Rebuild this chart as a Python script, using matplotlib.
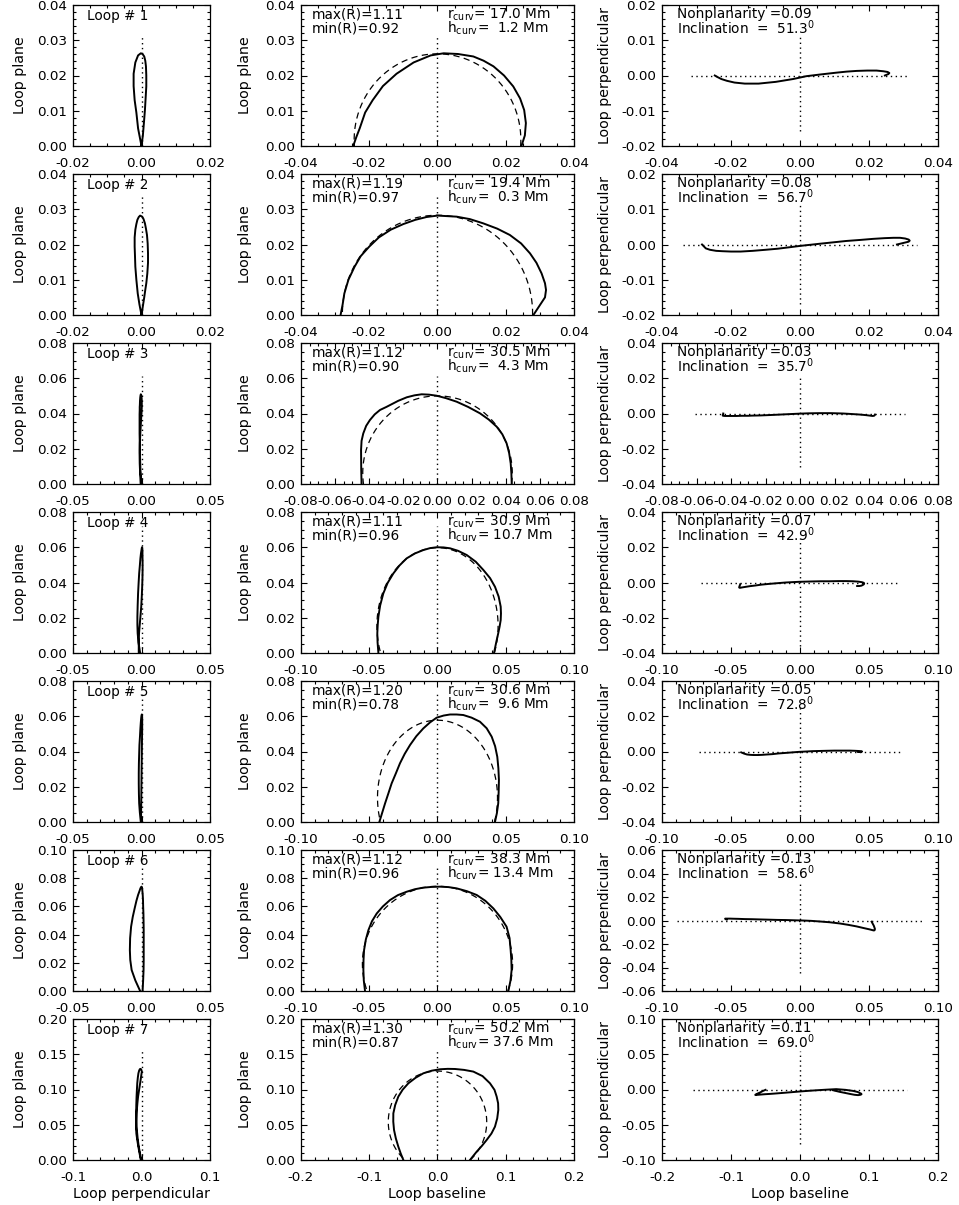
import numpy as np
import matplotlib.pyplot as plt
from matplotlib.ticker import FixedLocator, AutoMinorLocator, FuncFormatter

plt.rcParams['font.family'] = ['DejaVu Sans']
plt.rcParams['mathtext.fontset'] = 'dejavusans'
plt.rcParams['axes.unicode_minus'] = False
plt.rcParams['font.size'] = 10.2

R_SUN = 696.0  # Mm

# ------------------------------------------------------------------
# loop parameters
# ------------------------------------------------------------------
max_r        = [1.11, 1.19, 1.12, 1.11, 1.20, 1.12, 1.30]
min_r        = [0.92, 0.97, 0.90, 0.96, 0.78, 0.96, 0.87]
r_curv       = [17.0, 19.4, 30.5, 30.9, 30.6, 38.3, 50.2]   # Mm
h_curv       = [1.2, 0.3, 4.3, 10.7, 9.6, 13.4, 37.6]       # Mm
nonplanarity = [0.09, 0.08, 0.03, 0.07, 0.05, 0.13, 0.11]
inclination  = [51.3, 56.7, 35.7, 42.9, 72.8, 58.6, 69.0]

# ------------------------------------------------------------------
# loop coordinates (solar radii): baseline, height, perpendicular
# ------------------------------------------------------------------
base_1   = [-0.0247, -0.0238, -0.0228, -0.0212, -0.0190, -0.0160, -0.0120, -0.0070, -0.0020,
            0.0018, 0.0060, 0.0105, 0.0135, 0.0164, 0.0195, 0.0222, 0.0242, 0.0254, 0.0259, 0.0256, 0.0246]
height_1 = [0.0, 0.0025, 0.0050, 0.0095, 0.0130, 0.0170, 0.0205, 0.0237, 0.0257,
            0.0263, 0.0261, 0.0254, 0.0242, 0.0226, 0.0200, 0.0169, 0.0135, 0.0102, 0.0065, 0.0030, 0.0]
perp_1   = [0.0, -0.0005, -0.0010, -0.0015, -0.0020, -0.0023, -0.0023, -0.0018, -0.0010,
            -0.0002, 0.0003, 0.0008, 0.0011, 0.0013, 0.0014, 0.0014, 0.0012, 0.0010, 0.0007, 0.0004, 0.0]

base_2   = [-0.0284, -0.0278, -0.0273, -0.0261, -0.0243, -0.0225, -0.0200, -0.0172, -0.0137, -0.0100,
            -0.0065, -0.0032, 0.0000, 0.0056, 0.0095, 0.0134, 0.0175, 0.0212, 0.0245, 0.0271,
            0.0290, 0.0305, 0.0315, 0.0318, 0.0315, 0.0281]
height_2 = [0.0, 0.0030, 0.0061, 0.0100, 0.0137, 0.0167, 0.0194, 0.0220, 0.0242, 0.0258,
            0.0270, 0.0278, 0.0282, 0.0279, 0.0272, 0.0260, 0.0245, 0.0227, 0.0203, 0.0175,
            0.0148, 0.0118, 0.0090, 0.0071, 0.0050, 0.0]
perp_2   = [0.0, -0.0006, -0.0011, -0.0015, -0.0018, -0.0019, -0.0020, -0.0020, -0.0018, -0.0015,
            -0.0012, -0.0008, -0.0004, 0.0002, 0.0006, 0.0010, 0.0013, 0.0016, 0.0018, 0.0019,
            0.0019, 0.0017, 0.0014, 0.0011, 0.0008, 0.0]

base_3   = [-0.0445, -0.0447, -0.0448, -0.0445, -0.0435, -0.0418, -0.0396, -0.0368, -0.0337, -0.0300,
            -0.0278, -0.0230, -0.0180, -0.0135, -0.0093, -0.0050, -0.0005, 0.0050, 0.0112, 0.0180,
            0.0249, 0.0300, 0.0347, 0.0380, 0.0405, 0.0420, 0.0429, 0.0433, 0.0435]
height_3 = [0.0, 0.0080, 0.0193, 0.0245, 0.0287, 0.0330, 0.0363, 0.0395, 0.0420, 0.0437,
            0.0448, 0.0472, 0.0492, 0.0503, 0.0509, 0.0507, 0.0501, 0.0487, 0.0467, 0.0437,
            0.0401, 0.0366, 0.0325, 0.0282, 0.0231, 0.0175, 0.0117, 0.0060, 0.0]
perp_3   = [0.0, -0.0008, -0.0012, -0.0013, -0.0014, -0.0014, -0.0014, -0.0014, -0.0013, -0.0013,
            -0.0012, -0.0011, -0.0009, -0.0007, -0.0005, -0.0003, -0.0001, 0.0001, 0.0002, 0.0002,
            0.0, -0.0003, -0.0006, -0.0009, -0.0012, -0.0014, -0.0013, -0.0010, -0.0006]

base_4   = [-0.0433, -0.0439, -0.0441, -0.0438, -0.0433, -0.0420, -0.0397, -0.0365, -0.0323, -0.0278,
            -0.0226, -0.0165, -0.0104, -0.0055, -0.0006, 0.0045, 0.0092, 0.0150, 0.0214, 0.0280,
            0.0336, 0.0385, 0.0421, 0.0448, 0.0463, 0.0465, 0.0463, 0.0455, 0.0445, 0.0430, 0.0414]
height_4 = [0.0, 0.0060, 0.0112, 0.0160, 0.0206, 0.0270, 0.0338, 0.0398, 0.0452, 0.0497,
            0.0537, 0.0565, 0.0584, 0.0595, 0.0600, 0.0599, 0.0594, 0.0580, 0.0556, 0.0518,
            0.0471, 0.0425, 0.0376, 0.0320, 0.0263, 0.0225, 0.0187, 0.0150, 0.0112, 0.0060, 0.0]
perp_4   = [-0.0010, -0.0022, -0.0028, -0.0030, -0.0030, -0.0028, -0.0025, -0.0021, -0.0017, -0.0012,
            -0.0008, -0.0004, 0.0000, 0.0002, 0.0004, 0.0005, 0.0006, 0.0007, 0.0007, 0.0008,
            0.0008, 0.0007, 0.0005, 0.0002, -0.0002, -0.0006, -0.0010, -0.0014, -0.0018, -0.0020, -0.0020]

base_5   = [-0.0426, -0.0405, -0.0384, -0.0360, -0.0336, -0.0305, -0.0275, -0.0240, -0.0201, -0.0155,
            -0.0104, -0.0055, -0.0006, 0.0045, 0.0092, 0.0140, 0.0189, 0.0250, 0.0311, 0.0360,
            0.0397, 0.0422, 0.0438, 0.0446, 0.0450, 0.0448, 0.0445, 0.0435, 0.0421]
height_5 = [0.0, 0.0053, 0.0106, 0.0162, 0.0219, 0.0276, 0.0333, 0.0387, 0.0437, 0.0487,
            0.0531, 0.0565, 0.0592, 0.0604, 0.0610, 0.0610, 0.0607, 0.0592, 0.0569, 0.0532,
            0.0484, 0.0430, 0.0370, 0.0305, 0.0238, 0.0170, 0.0106, 0.0050, 0.0]
perp_5   = [-0.0005, -0.0012, -0.0017, -0.0019, -0.0020, -0.0020, -0.0019, -0.0017, -0.0015, -0.0011,
            -0.0008, -0.0005, -0.0002, 0.0000, 0.0002, 0.0003, 0.0004, 0.0005, 0.0005, 0.0005,
            0.0004, 0.0003, 0.0002, 0.0001, 0.0, -0.0001, -0.0002, -0.0003, -0.0003]

base_6   = [-0.0531, -0.0540, -0.0543, -0.0542, -0.0538, -0.0525, -0.0506, -0.0480, -0.0445, -0.0400,
            -0.0348, -0.0290, -0.0226, -0.0165, -0.0104, -0.0045, 0.0018, 0.0080, 0.0140, 0.0215,
            0.0287, 0.0350, 0.0409, 0.0460, 0.0506, 0.0528, 0.0536, 0.0541, 0.0543, 0.0535, 0.0519]
height_6 = [0.0, 0.0075, 0.0149, 0.0220, 0.0290, 0.0365, 0.0432, 0.0495, 0.0550, 0.0600,
            0.0645, 0.0680, 0.0704, 0.0722, 0.0733, 0.0738, 0.0740, 0.0737, 0.0728, 0.0708,
            0.0681, 0.0640, 0.0586, 0.0525, 0.0456, 0.0375, 0.0290, 0.0220, 0.0149, 0.0075, 0.0]
perp_6   = [0.0008, 0.0012, 0.0015, 0.0016, 0.0016, 0.0016, 0.0016, 0.0015, 0.0014, 0.0012,
            0.0011, 0.0009, 0.0007, 0.0005, 0.0004, 0.0002, 0.0, -0.0003, -0.0008, -0.0015,
            -0.0025, -0.0037, -0.0050, -0.0064, -0.0076, -0.0083, -0.0085, -0.0082, -0.0072, -0.0045, -0.0010]

base_7   = [-0.0500, -0.0540, -0.0574, -0.0610, -0.0637, -0.0648, -0.0647, -0.0620, -0.0574, -0.0510,
            -0.0427, -0.0320, -0.0207, -0.0085, 0.0037, 0.0150, 0.0256, 0.0390, 0.0525, 0.0660,
            0.0769, 0.0835, 0.0867, 0.0888, 0.0891, 0.0875, 0.0842, 0.0790, 0.0720, 0.0650, 0.0574, 0.0476]
height_7 = [0.0, 0.0095, 0.0189, 0.0305, 0.0426, 0.0545, 0.0662, 0.0780, 0.0899, 0.0998,
            0.1088, 0.1167, 0.1230, 0.1267, 0.1287, 0.1293, 0.1291, 0.1278, 0.1254, 0.1190,
            0.1088, 0.0995, 0.0899, 0.0805, 0.0710, 0.0590, 0.0473, 0.0375, 0.0284, 0.0200, 0.0118, 0.0]
perp_7   = [-0.0005, -0.0022, -0.0040, -0.0056, -0.0068, -0.0075, -0.0078, -0.0076, -0.0072, -0.0067,
            -0.0062, -0.0054, -0.0045, -0.0035, -0.0025, -0.0017, -0.0010, -0.0002, 0.0005, -0.0005,
            -0.0020, -0.0035, -0.0050, -0.0060, -0.0068, -0.0075, -0.0080, -0.0075, -0.0062, -0.0048, -0.0033, -0.0010]

bases   = [base_1, base_2, base_3, base_4, base_5, base_6, base_7]
heights = [height_1, height_2, height_3, height_4, height_5, height_6, height_7]
perps   = [perp_1, perp_2, perp_3, perp_4, perp_5, perp_6, perp_7]

# axis ranges (half-width or top) and major tick steps per row
perp_lim   = [0.02, 0.02, 0.05, 0.05, 0.05, 0.05, 0.10]
perp_step  = [0.02, 0.02, 0.05, 0.05, 0.05, 0.05, 0.10]
base_lim   = [0.04, 0.04, 0.08, 0.10, 0.10, 0.10, 0.20]
base_step  = [0.02, 0.02, 0.02, 0.05, 0.05, 0.05, 0.10]
hgt_lim    = [0.04, 0.04, 0.08, 0.08, 0.08, 0.10, 0.20]
hgt_step   = [0.01, 0.01, 0.02, 0.02, 0.02, 0.02, 0.05]
side_lim   = [0.02, 0.02, 0.04, 0.04, 0.04, 0.06, 0.10]
side_step  = [0.01, 0.01, 0.02, 0.02, 0.02, 0.02, 0.05]

# ------------------------------------------------------------------
# layout (pixels)
# ------------------------------------------------------------------
W, H = 959, 1205
col_left  = [73, 301, 662]
col_width = [137, 273, 276]
col_ypad  = [7.0, 9.0, 6.5]
row_top0, row_pitch, ax_h = 5, 169, 141

fig = plt.figure(figsize=(W / 100, H / 100), dpi=100)

SOLID  = dict(color='k', lw=1.4, solid_joinstyle='round')
DASHED = dict(color='k', lw=0.9, linestyle=(0, (5, 3.5)))
DOTTED = dict(color='k', lw=1.0, linestyle=(0, (1, 2.5)))
NOTE   = dict(va='baseline', fontsize=9.8)
LINE1, LINE2 = 0.903, 0.803


def make_ax(row, col):
    top = row_top0 + row * row_pitch
    return fig.add_axes([col_left[col] / W, 1 - (top + ax_h) / H,
                         col_width[col] / W, ax_h / H])


def set_axis(axis, lo, hi, step, fmt):
    n = int(round((hi - lo) / step))
    ticks = np.round(lo + step * np.arange(n + 1), 6)
    axis.set_major_locator(FixedLocator(ticks))
    axis.set_minor_locator(AutoMinorLocator())
    axis.set_major_formatter(FuncFormatter(
        lambda v, _: fmt % (v if abs(v) > 1e-9 else 0.0)))


def style(ax, col, xr, xstep, xfmt, yr, ystep, yfmt, ylabel):
    ax.set_xlim(*xr)
    ax.set_ylim(*yr)
    set_axis(ax.xaxis, xr[0], xr[1], xstep, xfmt)
    set_axis(ax.yaxis, yr[0], yr[1], ystep, yfmt)
    ax.tick_params(which='both', direction='in', top=True, right=True,
                   labelsize=9.7, width=0.8)
    ax.tick_params(axis='x', pad=8)
    ax.tick_params(axis='y', pad=4.5)
    ax.tick_params(which='major', length=4)
    ax.tick_params(which='minor', length=2)
    for s in ax.spines.values():
        s.set_linewidth(0.9)
    ax.set_ylabel(ylabel, labelpad=col_ypad[col])


for i in range(7):
    x = np.array(bases[i])
    z = np.array(heights[i])
    y = np.array(perps[i])
    hmax = z.max()
    fmt_b = '%.1f' if base_step[i] >= 0.1 else '%.2f'
    fmt_p = '%.1f' if perp_step[i] >= 0.1 else '%.2f'

    # --- perpendicular vs height ---
    ax = make_ax(i, 0)
    ax.plot([0, 0], [0, 1.2 * hmax], **DOTTED)
    ax.plot(y, z, **SOLID)
    style(ax, 0, (-perp_lim[i], perp_lim[i]), perp_step[i], fmt_p,
          (0, hgt_lim[i]), hgt_step[i], '%.2f', 'Loop plane')
    ax.text(0.10, 0.894, f'Loop # {i + 1}', transform=ax.transAxes, **NOTE)
    if i == 6:
        ax.set_xlabel('Loop perpendicular', labelpad=2)

    # --- baseline vs height, with fitted circle ---
    ax = make_ax(i, 1)
    ax.plot([0, 0], [0, 1.2 * hmax], **DOTTED)
    rc = r_curv[i] / R_SUN
    hc = h_curv[i] / R_SUN
    t0 = -np.arcsin(hc / rc)
    t = np.linspace(t0, np.pi - t0, 300)
    ax.plot(rc * np.cos(t), hc + rc * np.sin(t), **DASHED)
    ax.plot(x, z, **SOLID)
    style(ax, 1, (-base_lim[i], base_lim[i]), base_step[i], fmt_b,
          (0, hgt_lim[i]), hgt_step[i], '%.2f', 'Loop plane')
    ax.text(0.04, LINE1, f'max(R)={max_r[i]:.2f}', transform=ax.transAxes, **NOTE)
    ax.text(0.04, LINE2, f'min(R)={min_r[i]:.2f}', transform=ax.transAxes, **NOTE)
    ax.text(0.535, LINE1, r'r$_{\rm curv}$=' + f'{r_curv[i]:5.1f} Mm',
            transform=ax.transAxes, **NOTE)
    ax.text(0.535, LINE2, r'h$_{\rm curv}$=' + f'{h_curv[i]:5.1f} Mm',
            transform=ax.transAxes, **NOTE)
    if i == 6:
        ax.set_xlabel('Loop baseline', labelpad=2)

    # --- baseline vs perpendicular ---
    ax = make_ax(i, 2)
    ax.plot([-1.2 * hmax, 1.2 * hmax], [0, 0], **DOTTED)
    ax.plot([0, 0], [-0.6 * hmax, 0.42 * hmax], **DOTTED)
    ax.plot(x, y, **SOLID)
    style(ax, 2, (-base_lim[i], base_lim[i]), base_step[i], fmt_b,
          (-side_lim[i], side_lim[i]), side_step[i], '%.2f', 'Loop perpendicular')
    ax.text(0.055, 0.905, f'Nonplanarity ={nonplanarity[i]:.2f}',
            transform=ax.transAxes, **NOTE)
    ax.text(0.055, 0.795, f'Inclination  = {inclination[i]:5.1f}' + r'$^{0}$',
            transform=ax.transAxes, **NOTE)
    if i == 6:
        ax.set_xlabel('Loop baseline', labelpad=2)

fig.savefig('out.png', dpi=100)
